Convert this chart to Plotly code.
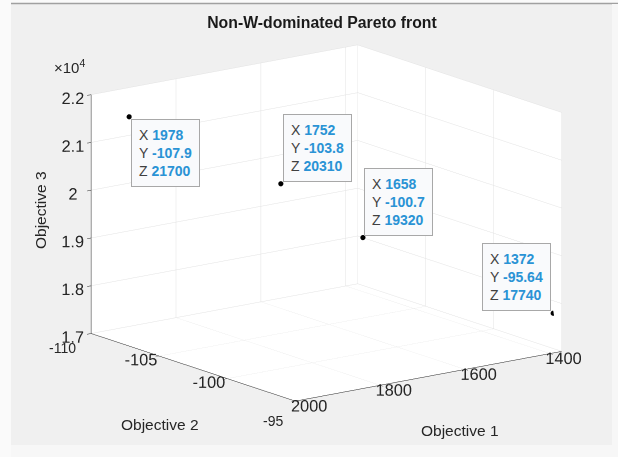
import plotly.graph_objects as go
import math

# Data
obj1 = [1978, 1752, 1658, 1372]
obj2 = [-107.9, -103.8, -100.7, -95.64]
obj3 = [21700, 20310, 19320, 17740]
tip_x = ["1978", "1752", "1658", "1372"]
tip_y = ["-107.9", "-103.8", "-100.7", "-95.64"]
tip_z = ["21700", "20310", "19320", "17740"]
x_ticks = [1400, 1600, 1800, 2000]
x_ticktext = ["1400", "1600", "1800", "2000"]
y_ticks = [-110, -105, -100, -95]
y_ticktext = ["-110", "-105", "-100", "-95"]
z_ticks = [17000, 18000, 19000, 20000, 21000, 22000]
z_ticktext = ["1.7", "1.8", "1.9", "2", "2.1", "2.2"]
x_range = [1372, 2000]
y_range = [-110, -95]
z_range = [17000, 22000]

FONT = "Liberation Sans, Arial, Helvetica, sans-serif"
TXT = "#262626"
BLUE = "#2a93d5"

fig = go.Figure()
fig.add_trace(go.Scatter3d(
    x=obj1, y=obj2, z=obj3, mode="markers",
    marker=dict(size=3, color="black", line=dict(width=0)),
    hoverinfo="skip", showlegend=False))

anchors = [("left", "top"), ("left", "bottom"), ("left", "bottom"), ("right", "bottom")]
shifts = [(2, -2), (2, 2), (1, 1), (-2, 2)]
annos = []
for i in range(len(obj1)):
    txt = (f"X <b><span style='color:{BLUE}'>{tip_x[i]}</span></b><br>"
           f"Y <b><span style='color:{BLUE}'>{tip_y[i]}</span></b><br>"
           f"Z <b><span style='color:{BLUE}'>{tip_z[i]}</span></b>")
    xa, ya = anchors[i]
    annos.append(dict(
        x=obj1[i], y=obj2[i], z=obj3[i], text=txt, showarrow=False,
        xanchor=xa, yanchor=ya, align="left",
        xshift=shifts[i][0], yshift=shifts[i][1],
        bgcolor="#f9fafc", bordercolor="#a8a8a8", borderwidth=1, borderpad=7,
        font=dict(family=FONT, size=14, color="#404040")))

axis_common = dict(
    showbackground=True, backgroundcolor="white",
    gridcolor="#e3e3e3", gridwidth=1,
    showline=True, linecolor=TXT, linewidth=1,
    ticks="outside", ticklen=5, tickcolor=TXT, tickangle=0,
    tickfont=dict(family=FONT, size=14, color=TXT),
    showspikes=False, zeroline=False, title=dict(text=""),
)

d = 1.25
phi = math.radians(53.1)
th = math.radians(14.4)
eye = dict(x=d * math.cos(th) * math.cos(phi), y=d * math.cos(th) * math.sin(phi), z=d * math.sin(th))
s = 1.61

# labels that collide at the box corners are placed as separate text
y_shown = [t if t not in ("-110", "-95") else "" for t in y_ticktext]

fig.update_layout(
    width=618, height=457,
    paper_bgcolor="#f0f0f0",
    margin=dict(l=0, r=0, t=0, b=0),
    title=dict(text="<b>Non-W-dominated Pareto front</b>", x=0.521, xanchor="center",
               y=1 - 22 / 457, yanchor="middle",
               font=dict(family=FONT, size=15.8, color="#1a1a1a")),
    scene=dict(
        domain=dict(x=[0.056, 1.0], y=[0.06, 0.965]),
        xaxis=dict(axis_common, range=x_range, tickvals=x_ticks, ticktext=x_ticktext),
        yaxis=dict(axis_common, range=y_range, tickvals=y_ticks, ticktext=y_shown),
        zaxis=dict(axis_common, range=z_range, tickvals=z_ticks, ticktext=z_ticktext),
        aspectmode="manual", aspectratio=dict(x=1.0 * s, y=1.02 * s, z=0.74 * s),
        camera=dict(eye=eye, up=dict(x=0, y=0, z=1), center=dict(x=0, y=0, z=0),
                    projection=dict(type="orthographic")),
        annotations=annos,
    ),
    annotations=[
        dict(text="\u00d710<sup>4</sup>", x=69 / 618, y=1 - 66 / 457, xref="paper", yref="paper",
             showarrow=False, xanchor="center", yanchor="middle",
             font=dict(family=FONT, size=15, color=TXT)),
        dict(text=y_ticktext[0], x=62 / 618, y=1 - 348 / 457, xref="paper", yref="paper",
             showarrow=False, xanchor="center", yanchor="middle",
             font=dict(family=FONT, size=14, color=TXT)),
        dict(text=y_ticktext[-1], x=273 / 618, y=1 - 421 / 457, xref="paper", yref="paper",
             showarrow=False, xanchor="center", yanchor="middle",
             font=dict(family=FONT, size=14, color=TXT)),
        dict(text="Objective 1", x=460 / 618, y=1 - 430 / 457, xref="paper", yref="paper",
             showarrow=False, xanchor="center", yanchor="middle",
             font=dict(family=FONT, size=15.5, color=TXT)),
        dict(text="Objective 2", x=160 / 618, y=1 - 424 / 457, xref="paper", yref="paper",
             showarrow=False, xanchor="center", yanchor="middle",
             font=dict(family=FONT, size=15.5, color=TXT)),
        dict(text="Objective 3", x=41 / 618, y=1 - 210 / 457, xref="paper", yref="paper",
             showarrow=False, xanchor="center", yanchor="middle", textangle=-90,
             font=dict(family=FONT, size=15.5, color=TXT)),
    ],
    shapes=[
        dict(type="rect", xref="paper", yref="paper", x0=0, x1=11 / 618, y0=0, y1=1,
             fillcolor="#fafafa", line=dict(width=0), layer="above"),
        dict(type="rect", xref="paper", yref="paper", x0=0, x1=1, y0=1 - 3 / 457, y1=1,
             fillcolor="#fafafa", line=dict(width=0), layer="above"),
        dict(type="line", xref="paper", yref="paper", x0=11 / 618, x1=1, y0=1 - 3.5 / 457, y1=1 - 3.5 / 457,
             line=dict(color="#a0a0a0", width=1.5), layer="above"),
        dict(type="rect", xref="paper", yref="paper", x0=612 / 618, x1=1, y0=0, y1=1 - 4 / 457,
             fillcolor="#f7f7f7", line=dict(width=0), layer="above"),
        dict(type="rect", xref="paper", yref="paper", x0=11 / 618, x1=1, y0=0, y1=12 / 457,
             fillcolor="#f7f7f7", line=dict(width=0), layer="above"),
    ],
)

fig.write_html("out.html", config=dict(displayModeBar=False),
               post_script="document.body.style.margin='0';document.body.style.overflow='hidden';")
